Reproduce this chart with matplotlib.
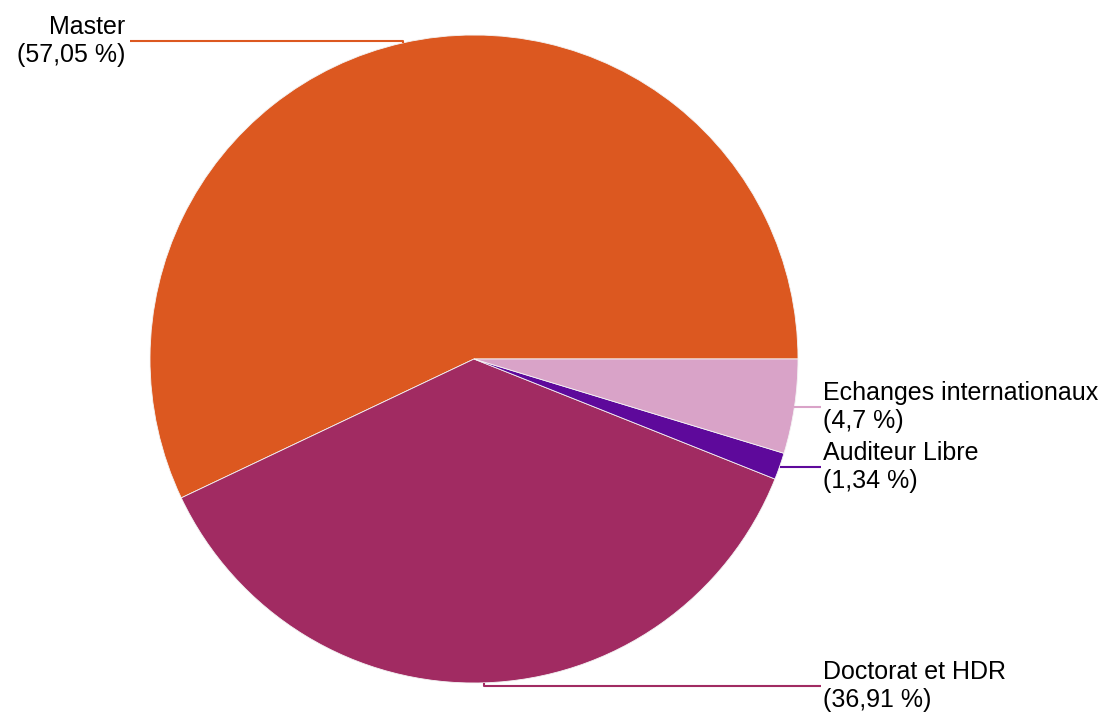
import numpy as np
import matplotlib.pyplot as plt

# Data
categories = ['Master', 'Doctorat et HDR', 'Auditeur Libre', 'Echanges internationaux']
values = [57.05, 36.91, 1.34, 4.7]
pct_labels = ['57,05 %', '36,91 %', '1,34 %', '4,7 %']
colors = ['#DC5820', '#A12B62', '#5E099B', '#D9A3C8']

plt.rcParams['font.family'] = ['Liberation Sans', 'DejaVu Sans']

W, H = 1100, 715
fig = plt.figure(figsize=(W / 100, H / 100), dpi=100)
ax = fig.add_axes([0, 0, 1, 1])

cx, cy, r = 474, H - 359, 324
wedges, _ = ax.pie(values, colors=colors, startangle=0, counterclock=True,
                   center=(cx, cy), radius=r, frame=True,
                   wedgeprops=dict(edgecolor='#f4f4f4', linewidth=0.6))
ax.set_xlim(0, W)
ax.set_ylim(0, H)
ax.set_aspect('equal')
ax.axis('off')

# label layout: (label y in pixels from top, text x, alignment, route)
layout = {
    'Master': (41, 125, 'right', 'vertical'),
    'Doctorat et HDR': (686, 823, 'left', 'vertical'),
    'Auditeur Libre': (467, 823, 'left', 'horizontal'),
    'Echanges internationaux': (407, 823, 'left', 'horizontal'),
}

for w, cat, pct, col in zip(wedges, categories, pct_labels, colors):
    mid = np.deg2rad((w.theta1 + w.theta2) / 2)
    ex, ey = cx + r * np.cos(mid), cy + r * np.sin(mid)
    ly_px, tx, ha, route = layout[cat]
    ly = H - ly_px
    line_end = tx + 5 if ha == 'right' else tx - 2
    if route == 'vertical':
        xs, ys = [ex, ex, line_end], [ey, ly, ly]
    else:
        xs, ys = [ex, line_end], [ly, ly]
    ax.plot(xs, ys, color=col, linewidth=1.5, solid_capstyle='butt')
    ax.text(tx, ly, f'{cat}\n({pct})', ha=ha, va='center', multialignment=ha,
            fontsize=18, color='black', linespacing=1.25)

plt.savefig('out.png', dpi=100)
